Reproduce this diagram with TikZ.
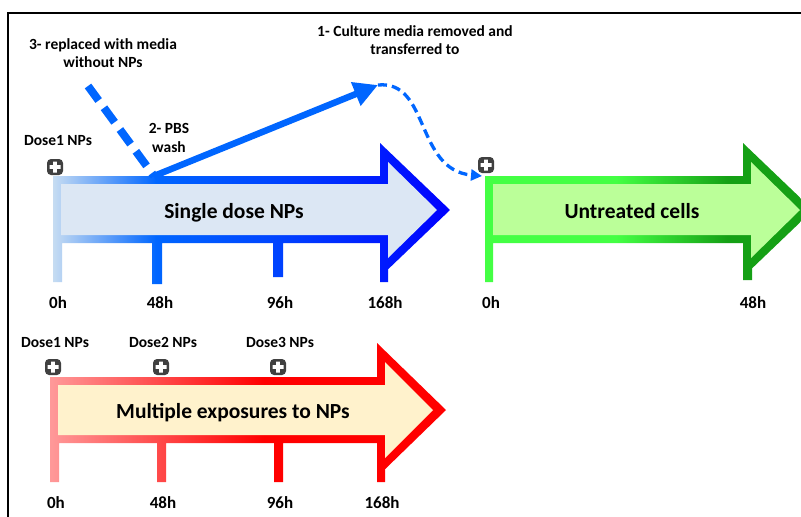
\documentclass[tikz,border=0pt]{standalone}
\usepackage{fontspec}
\setmainfont{Carlito}
\usepackage{xcolor}
\usetikzlibrary{arrows.meta}
\definecolor{flowblue}{HTML}{0066FF}
\definecolor{paleblue}{HTML}{C6DCF2}
\definecolor{midblue}{HTML}{0044FF}
\definecolor{deepblue}{HTML}{0000FF}
\definecolor{singlefill}{HTML}{DCE7F4}
\definecolor{brightgreen}{HTML}{44FF44}
\definecolor{darkgreen}{HTML}{15A015}
\definecolor{untreatedfill}{HTML}{BBFF99}
\definecolor{palered}{HTML}{FF9999}
\definecolor{midred}{HTML}{FF4848}
\definecolor{fullred}{HTML}{FF0000}
\definecolor{multiplefill}{HTML}{FFF2CC}
\definecolor{icongray}{HTML}{404040}
\pgfdeclarehorizontalshading{singleedge}{100bp}{color(0bp)=(paleblue); color(25bp)=(paleblue); color(38bp)=(flowblue); color(53bp)=(midblue); color(75bp)=(deepblue); color(100bp)=(deepblue)}
\pgfdeclarehorizontalshading{untreatededge}{100bp}{color(0bp)=(brightgreen); color(25bp)=(brightgreen); color(45bp)=(brightgreen); color(62bp)=(darkgreen); color(100bp)=(darkgreen)}
\pgfdeclarehorizontalshading{multipleedge}{100bp}{color(0bp)=(palered); color(25bp)=(palered); color(39bp)=(midred); color(52bp)=(fullred); color(100bp)=(fullred)}
\tikzset{
  lbl/.style={font=\fontsize{15.5}{18.5}\selectfont\bfseries, align=center, inner sep=0pt},
  hour/.style={font=\fontsize{17}{20}\selectfont\bfseries, inner sep=0pt, anchor=base},
  banner/.style={font=\fontsize{21.5}{24}\selectfont\bfseries, inner sep=0pt, anchor=base},
  flow/.style={draw=flowblue, line width=6.5pt, -{Triangle[length=24pt, width=24pt]}},
  refill/.style={draw=flowblue, line width=8pt, dash pattern=on 18pt off 9pt},
  transfer/.style={draw=flowblue, line width=3.3pt, dash pattern=on 9pt off 5pt, -{Triangle[length=11pt, width=11pt]}},
  doseplus/.pic={
    \fill[icongray, rounded corners=4pt] (-8,-8) rectangle (8,8);
    \fill[white] (-5.5,-1.8) rectangle (5.5,1.8) (-1.8,-5.5) rectangle (1.8,5.5);
  },
}
\begin{document}
\begin{tikzpicture}[x=1pt, y=-1pt]
  \useasboundingbox (0,0) rectangle (801,517);
  \clip (0,0) rectangle (801,517);
  \fill[white] (0,0) rectangle (801,517);
  \draw[black, line width=1.5pt] (8,517) -- (8,13) -- (801,13);

  % single dose
  \shade[shading=singleedge]
    (53,176) -- (380,176) -- (380,143) -- (450,210) -- (380,277) -- (380,243) -- (53,243) -- cycle
    foreach \l/\r/\b in {53/62/282, 152/162/284, 273/283/277, 380/388/282} {
      (\l,243) -- (\r,243) -- (\r,\b) -- (\l,\b) -- cycle };
  \fill[singlefill] (61,184) -- (388,184) -- (388,162) -- (437,210) -- (388,258) -- (388,235) -- (61,235) -- cycle;
  \node[banner] (single) at (234,218) {Single dose NPs};

  % untreated
  \shade[shading=untreatededge]
    (485,176) -- (743,176) -- (743,143) -- (813,210) -- (743,277) -- (743,243) -- (485,243) -- cycle
    foreach \l/\r/\b in {485/493/282, 743/752/280} {
      (\l,243) -- (\r,243) -- (\r,\b) -- (\l,\b) -- cycle };
  \fill[untreatedfill] (493,184) -- (751,184) -- (751,162) -- (800,210) -- (751,258) -- (751,235) -- (493,235) -- cycle;
  \node[banner] (untreated) at (632,218) {Untreated cells};

  % multiple exposures
  \shade[shading=multipleedge]
    (50,377) -- (377,377) -- (377,343) -- (446,410) -- (377,477) -- (377,443) -- (50,443) -- cycle
    foreach \l/\r/\b in {50/59/482, 157/166/482, 274/283/482, 377/385/482} {
      (\l,443) -- (\r,443) -- (\r,\b) -- (\l,\b) -- cycle };
  \fill[multiplefill] (58,385) -- (385,385) -- (385,362) -- (433,410) -- (385,458) -- (385,435) -- (58,435) -- cycle;
  \node[banner] (multiple) at (233,418) {Multiple exposures to NPs};

  % hours
  \foreach \x/\t [count=\i] in {58/0h, 160/48h, 280/96h, 385/168h}
    \node[hour] (hs\i) at (\x,308) {\t};
  \node[hour] (hu1) at (491,308) {0h};
  \node[hour] (hu2) at (753,308) {48h};
  \foreach \x/\t [count=\i] in {56/0h, 163/48h, 280/96h, 382/168h}
    \node[hour] (hm\i) at (\x,508) {\t};

  % doses
  \pic at (55,167) {doseplus};
  \pic at (486,165) {doseplus};
  \node[lbl, anchor=base] (dose1s) at (58,145) {Dose1 NPs};
  \foreach \x [count=\i] in {53, 161, 278} {
    \pic at (\x,367) {doseplus};
    \node[lbl, anchor=base] (dose\i m) at (\x+2,347) {Dose\i{} NPs};
  }

  % steps
  \node[lbl] (step3) at (103,53) {3- replaced with media\\without NPs};
  \node[lbl] (step2) at (169,138) {2- PBS\\wash};
  \node[lbl] (step1) at (415,40) {1- Culture media removed and\\transferred to};

  \coordinate (media) at (88,86);
  \coordinate (wash) at (154,176);
  \coordinate (lift) at (378,85);
  \coordinate (drop) at (482,176);
  \draw[refill] (media) -- (wash);
  \draw[flow] (wash) -- (lift);
  \draw[transfer] (lift) .. controls (430,80) and (415,170) .. (drop);
\end{tikzpicture}
\end{document}
